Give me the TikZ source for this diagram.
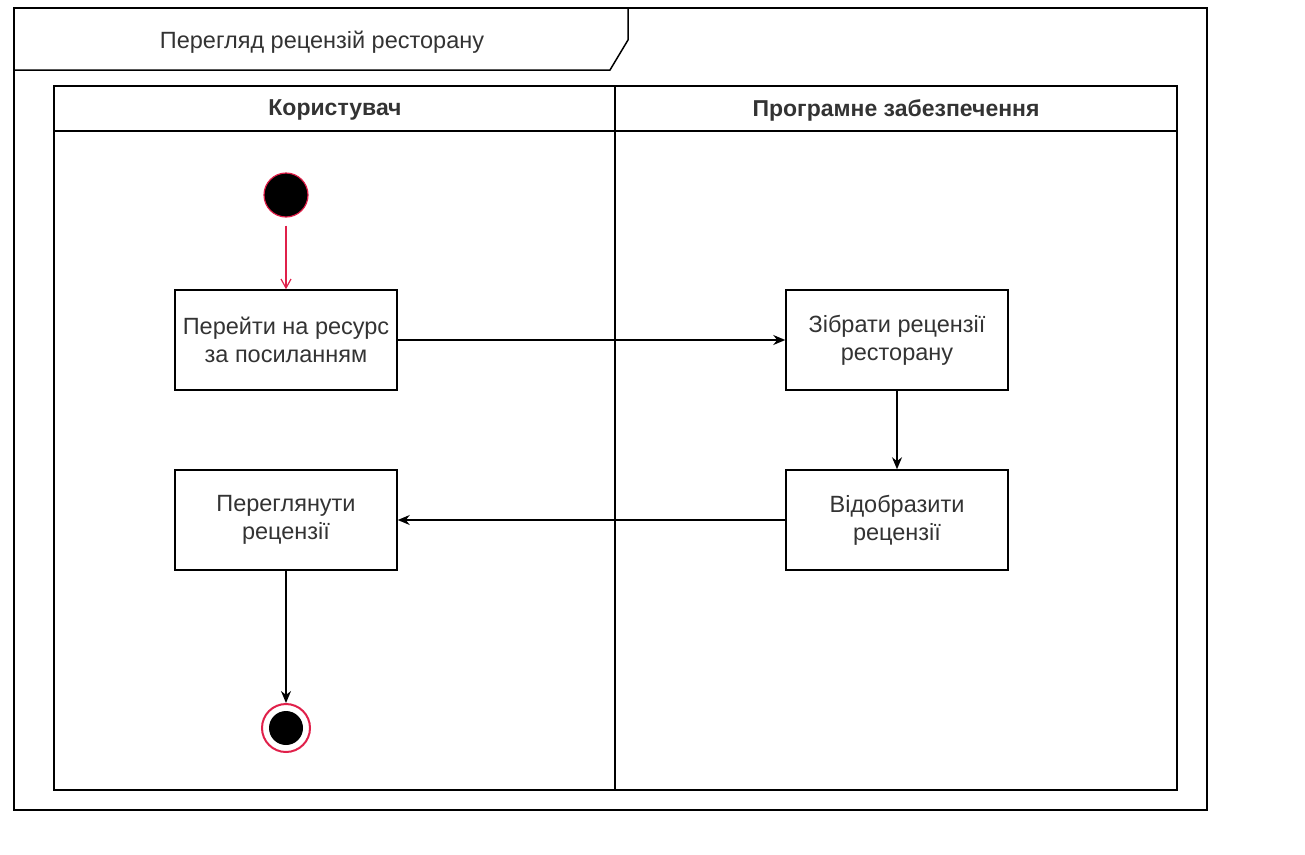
\documentclass[tikz,border=0pt]{standalone}
\usepackage{fontspec}
\setmainfont{Liberation Sans}
\usetikzlibrary{positioning, arrows.meta}
\definecolor{myred}{HTML}{E0204A}
\definecolor{mytext}{HTML}{333333}

\begin{document}
\begin{tikzpicture}[x=1pt, y=-1pt,
  action/.style={rectangle, draw=black, line width=1.5pt, minimum width=222pt, minimum height=100pt,
    align=center, text=mytext, font=\fontsize{23.5}{28}\selectfont},
  lanehead/.style={font=\bfseries\fontsize{23}{27}\selectfont, text=mytext},
  startnode/.style={circle, fill=black, draw=myred, line width=1.2pt, minimum size=44pt, inner sep=0pt},
  stopnode/.style={circle, draw=myred, line width=2pt, minimum size=48pt, inner sep=0pt,
    path picture={\fill[black] (path picture bounding box.center) circle (17pt);}},
  arr/.style={-{Stealth[length=12pt,width=10pt]}, line width=1.4pt},
  redarr/.style={-{Straight Barb[length=9pt,width=10pt]}, line width=1.2pt, myred}
]
\useasboundingbox (0,0) rectangle (1305,854);

% frame with name tab
\draw[line width=1.8pt] (14,8) rectangle (1207,810);
\draw[line width=1.5pt] (14,70) -- (610,70) -- (628,40) -- (628,8);
\node[text=mytext, font=\fontsize{23.5}{28}\selectfont] (title) at (322,42) {Перегляд рецензій ресторану};

% swimlanes
\draw[line width=1.5pt] (54,86) rectangle (1177,790);
\draw[line width=1.5pt] (54,131) -- (1177,131);
\draw[line width=1.5pt] (615,86) -- (615,790);
\node[lanehead] (userlane) at (335,110) {Користувач};
\node[lanehead] (softlane) at (896,110) {Програмне забезпечення};

% nodes
\node[startnode] (start) at (286,195) {};
\node[action] (open) at (286,340) {Перейти на ресурс\\за посиланням};
\node[action] (collect) at (897,340) {Зібрати рецензії\\ресторану};
\node[action] (show) at (897,520) {Відобразити\\рецензії};
\node[action] (view) at (286,520) {Переглянути\\рецензії};
\node[stopnode] (stop) at (286,728) {};

% flow
\draw[redarr, shorten <=8pt] (start) -- (open);
\draw[arr] (open) -- (collect);
\draw[arr] (collect) -- (show);
\draw[arr] (show) -- (view);
\draw[arr] (view) -- (stop);
\end{tikzpicture}
\end{document}
